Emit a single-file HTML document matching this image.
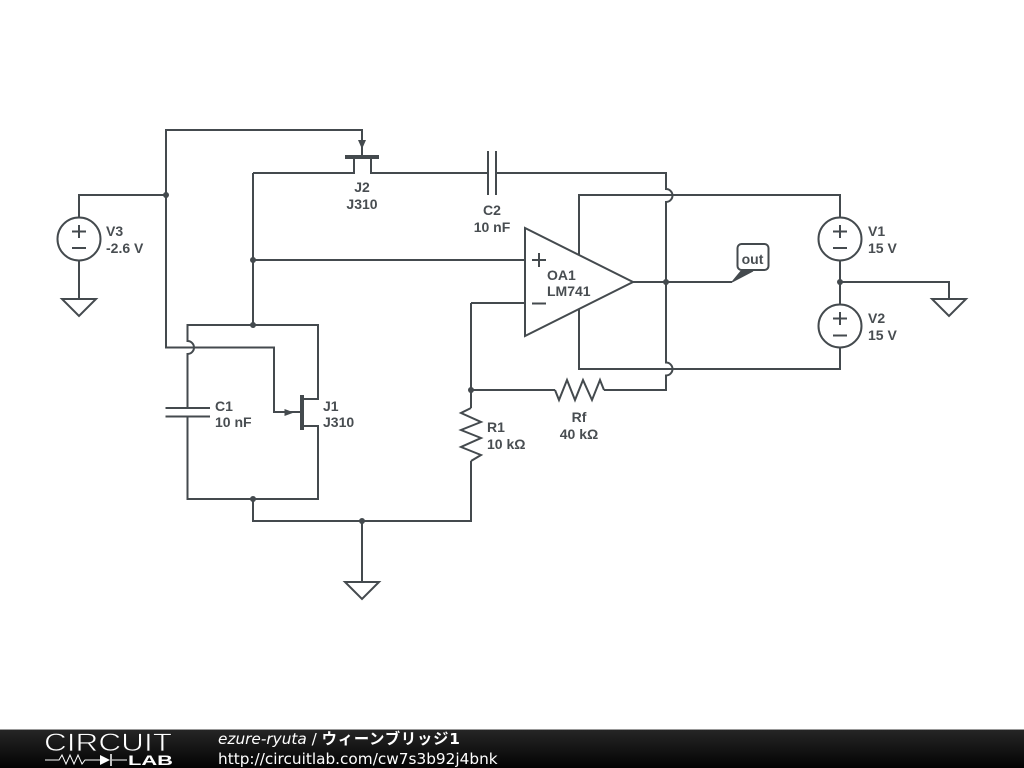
<!DOCTYPE html>
<html><head><meta charset="utf-8"><style>
html,body{margin:0;padding:0;background:#fff;width:1024px;height:768px;overflow:hidden}
svg{display:block;position:absolute;left:0;top:0}
.l{font:bold 14px "Liberation Sans",sans-serif;fill:#484d51}
.f{font:15.3px "DejaVu Sans","Noto Sans CJK JP",sans-serif;fill:#fff}
</style></head><body>
<svg width="1024" height="768" viewBox="0 0 1024 768" xmlns="http://www.w3.org/2000/svg">
<defs><linearGradient id="g" x1="0" y1="0" x2="0" y2="1"><stop offset="0" stop-color="#262626"/><stop offset="1" stop-color="#030303"/></linearGradient></defs>
<g fill="none" stroke="#444a4e" stroke-width="2">
<path d="M79 217V195H166M166 195V130H362V157"/>
<path d="M166 195V347.500H274V412H301"/>
<path d="M187.500 408V354A6.500 6.500 0 0 0 187.500 341V325H318V399H302M302 426H318V499H187.500V416"/>
<path d="M253 173V325M253 499V521H471V461"/>
<path d="M362 521V582M79 261V299"/>
<path d="M253 173H354V157M371 157V173H488M496 173H666V189A6.500 6.500 0 0 1 666 202V362.500A6.500 6.500 0 0 1 666 375.500V390H604"/>
<path d="M253 260H525M471 303H525M471 303V408M471 390H555"/>
<path d="M579 255V195H840V217M840 261V304M840 348V369H579V309"/>
<path d="M633 282H732M840 282H949V299"/>
<path d="M555 390L559 400L567 380L575 400L583 380L592 400L600 380L604 390"/>
<path d="M471 408L461 413L481 422L461 430L481 438L461 447L481 455L471 461"/>
<path d="M488 151V195M496 151V195M165.500 408H210M165.500 416.500H210"/>
<path d="M62 299H96L79 316ZM932 299H966L949 316ZM345 582H379L362 599Z"/>
<path d="M525 228V336L633 282Z" fill="#fff"/>
<circle cx="79" cy="239" r="21.500"/><circle cx="840" cy="239" r="21.500"/><circle cx="840" cy="326" r="21.500"/>
<path d="M72 231.500H86M79 225V238M72 248H86M833 231.500H847M840 225V238M833 248H847M833 318.500H847M840 312V325M833 335.500H847M532 260H546M539 253V267M532 303.500H546"/>
<rect x="737.500" y="244" width="31" height="26" rx="4" fill="#fff"/>
</g>
<path d="M345 157H379M302 395V430" stroke="#444a4e" stroke-width="4" fill="none"/>
<path d="M358 140H366L362 149ZM284.500 409L294 412.500L284.500 416Z" fill="#444a4e"/>
<path d="M732 282L741 271H753Z" fill="#444a4e" stroke="#444a4e"/>
<g fill="#444a4e"><circle cx="166" cy="195" r="3"/><circle cx="253" cy="260" r="3"/><circle cx="253" cy="325" r="3"/><circle cx="253" cy="499" r="3"/><circle cx="362" cy="521" r="3"/><circle cx="471" cy="390" r="3"/><circle cx="666" cy="282" r="3"/><circle cx="840" cy="282" r="3"/></g>
<text class="l" x="106" y="236">V3</text><text class="l" x="106" y="253">-2.6 V</text>
<text class="l" x="868" y="236">V1</text><text class="l" x="868" y="253">15 V</text>
<text class="l" x="868" y="323">V2</text><text class="l" x="868" y="340">15 V</text>
<text class="l" x="362" y="192" text-anchor="middle">J2</text><text class="l" x="362" y="209" text-anchor="middle">J310</text>
<text class="l" x="492" y="215" text-anchor="middle">C2</text><text class="l" x="492" y="232" text-anchor="middle">10 nF</text>
<text class="l" x="215" y="411">C1</text><text class="l" x="215" y="427">10 nF</text>
<text class="l" x="323" y="411">J1</text><text class="l" x="323" y="427">J310</text>
<text class="l" x="547" y="280">OA1</text><text class="l" x="547" y="296">LM741</text>
<text class="l" x="487" y="432">R1</text><text class="l" x="487" y="449">10 kΩ</text>
<text class="l" x="579" y="422" text-anchor="middle">Rf</text><text class="l" x="579" y="439" text-anchor="middle">40 kΩ</text>
<text class="l" x="752.500" y="264" text-anchor="middle">out</text>
<rect x="0" y="729" width="1024" height="39" fill="url(#g)"/>
<rect x="0" y="729" width="1024" height="1" fill="#999"/>
<text x="44" y="751" font-family="Liberation Sans,sans-serif" font-size="25" fill="#fff" stroke="#1c1c1c" stroke-width="0.7" paint-order="fill stroke" textLength="128" lengthAdjust="spacingAndGlyphs">CIRCUIT</text>
<path d="M45 760H59L62 755L66 764L70 755L74 764L78 755L82 764L85 760H100M112 760H127" fill="none" stroke="#fff" stroke-width="1"/>
<path d="M100 755L110 760L100 765Z" fill="#fff"/><path d="M111 754V766" stroke="#fff" stroke-width="1.500"/>
<text x="128" y="765" font-family="Liberation Sans,sans-serif" font-size="14" font-weight="bold" fill="#fff" textLength="45" lengthAdjust="spacingAndGlyphs">LAB</text>
<text class="f" x="218" y="744"><tspan font-style="italic">ezure-ryuta</tspan> / <tspan font-weight="bold" letter-spacing="0.8">ウィーンブリッジ1</tspan></text>
<text class="f" x="218" y="764">http://circuitlab.com/cw7s3b92j4bnk</text>
</svg>
</body></html>
